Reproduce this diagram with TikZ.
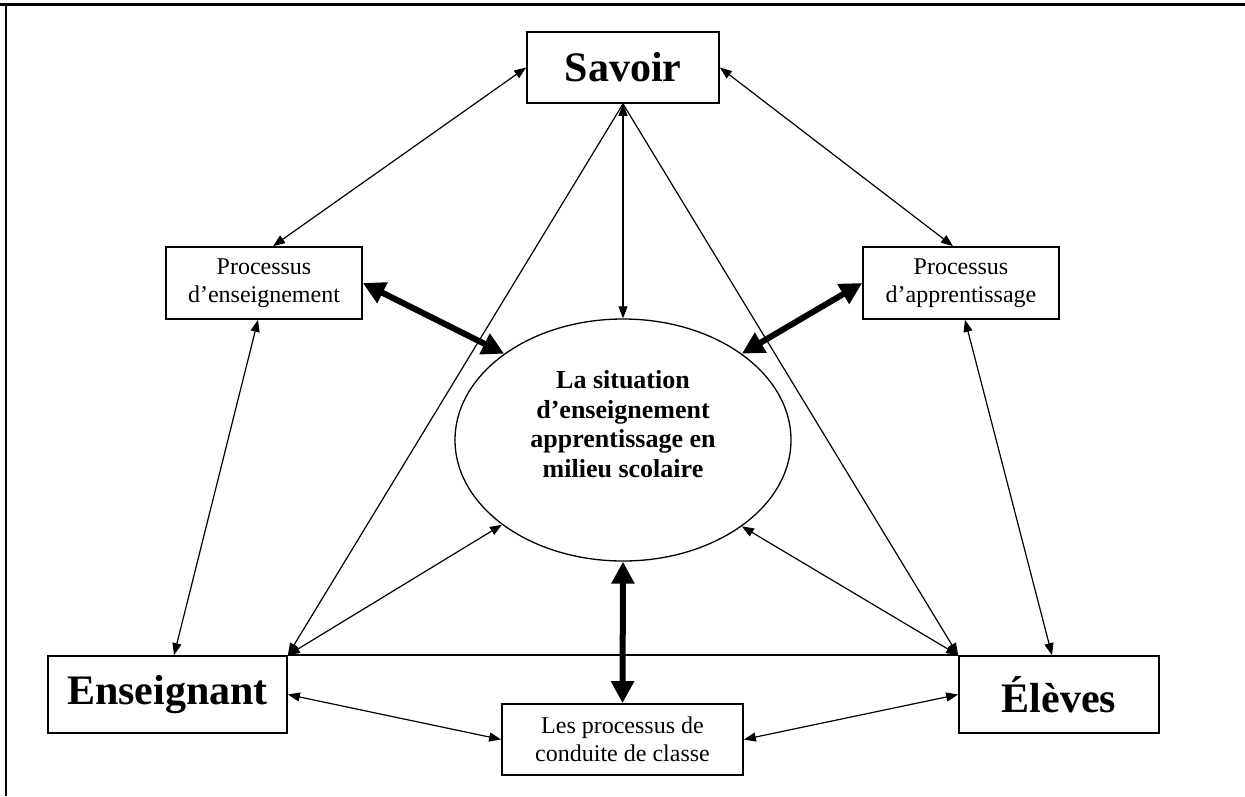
\documentclass[tikz,border=0pt]{standalone}
\usepackage{fontspec}
\setmainfont{Liberation Serif}
\usetikzlibrary{arrows.meta,shapes.geometric}
\begin{document}
\begin{tikzpicture}[x=1pt,y=-1pt,
  box/.style={draw, line width=1.7pt, inner sep=0pt, align=center},
  bigtxt/.style={font=\fontsize{42}{48}\selectfont\bfseries},
  smalltxt/.style={font=\fontsize{24}{27.5}\selectfont},
  thinarr/.style={line width=1.2pt, {Triangle[length=12pt,width=9pt]}-{Triangle[length=12pt,width=9pt]}},
  thinone/.style={line width=1.2pt, -{Triangle[length=12pt,width=9pt]}},
  thickarr/.style={line width=6pt, {Triangle[length=22pt,width=22pt]}-{Triangle[length=22pt,width=22pt]}},
]
\useasboundingbox (0,0) rectangle (1245,796);
% frame
\draw[line width=3pt] (0,4) -- (1245,4);
\draw[line width=2pt] (6,4) -- (6,796);

% nodes
\node[box, bigtxt, minimum width=192pt, minimum height=71pt] (sav) at (623,67.5) {Savoir};
\node[box, smalltxt, minimum width=196pt, minimum height=72pt] (pe) at (264,283) {Processus\\d’enseignement};
\node[box, smalltxt, minimum width=196pt, minimum height=72pt] (pa) at (961,283) {Processus\\d’apprentissage};
\node[draw, ellipse, line width=1.3pt, minimum width=336pt, minimum height=242pt, inner sep=0pt] (ell) at (623,440) {};
\node[align=center, inner sep=0pt, font=\fontsize{26}{29.7}\selectfont\bfseries] (ellt) at (623,424) {La situation\\d’enseignement\\apprentissage en\\milieu scolaire};
\node[box, bigtxt, minimum width=239pt, minimum height=77pt] (ens) at (167.5,694.5) {Enseignant};
\node[box, bigtxt, minimum width=200pt, minimum height=77pt] (el) at (1059,694.5) {Élèves};
\node[box, smalltxt, minimum width=241pt, minimum height=71pt] (cd) at (622.5,739.5) {Les processus de\\conduite de classe};

% connectors
\draw[thinarr] (sav.west) -- ([xshift=9pt]pe.north);
\draw[thinarr] (sav.east) -- ([xshift=-8pt]pa.north);
\draw[thinarr] (sav.south) -- (ell.90);
\draw[thinone] (sav.south) -- (ens.north east);
\draw[thinone] (sav.south) -- (el.north west);
\draw[line width=1.5pt] (ens.north east) -- (el.north west);
\draw[thinarr] (ell.215.5) -- (ens.north east);
\draw[thinarr] (ell.324.5) -- (el.north west);
\draw[thickarr] (ell.270) -- (cd.north);
\draw[thickarr] (pe.east) -- (ell.144);
\draw[thickarr] (pa.west) -- (ell.36);
\draw[thinarr] ([xshift=-6pt]pe.south) -- ([xshift=6.5pt]ens.north);
\draw[thinarr] ([xshift=4pt]pa.south) -- ([xshift=-7pt]el.north);
\draw[thinarr] (ens.east) -- (cd.west);
\draw[thinarr] (el.west) -- (cd.east);
\end{tikzpicture}
\end{document}
